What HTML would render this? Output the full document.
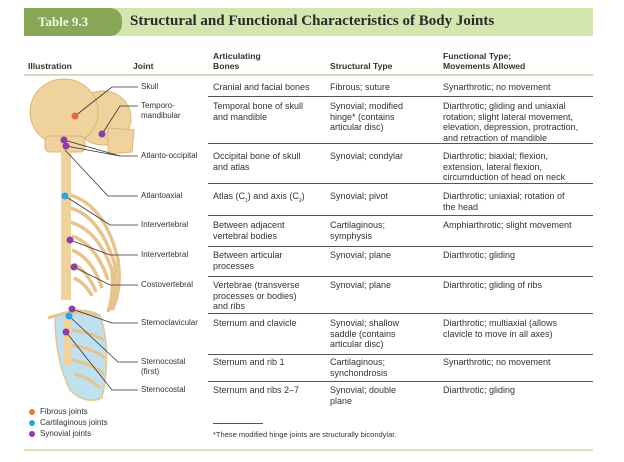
<!DOCTYPE html>
<html><head><meta charset="utf-8"><style>
body{margin:0;width:624px;height:462px;background:#fff;position:relative;overflow:hidden;font-family:"Liberation Sans",sans-serif;color:#333}
.t{position:absolute;font-size:9px;line-height:10.5px;white-space:nowrap}
.h{position:absolute;font-size:8.6px;line-height:10px;font-weight:bold;color:#333}
.r{position:absolute;left:208px;width:385px;height:1.3px;background:#555}
</style></head><body>
<div style="position:absolute;left:24px;top:8px;width:569px;height:28px;background:#d3e6b0"></div>
<div style="position:absolute;left:24px;top:8px;width:98px;height:28px;background:#88a857;border-radius:0 12px 12px 0"></div>
<div style="position:absolute;left:38px;top:14px;font-family:'Liberation Serif',serif;font-weight:bold;font-size:13px;color:#f3f6e8">Table 9.3</div>
<div style="position:absolute;left:130px;top:13px;font-family:'Liberation Serif',serif;font-weight:bold;font-size:15px;color:#2a2a2a">Structural and Functional Characteristics of Body Joints</div>
<div class="h" style="left:28px;top:61px">Illustration</div>
<div class="h" style="left:133px;top:61px">Joint</div>
<div class="h" style="left:213px;top:51px">Articulating<br>Bones</div>
<div class="h" style="left:330px;top:61px">Structural Type</div>
<div class="h" style="left:443px;top:51px">Functional Type;<br>Movements Allowed</div>
<div style="position:absolute;left:24px;top:74px;width:569px;height:2px;background:#cfdcc0"></div>
<div class="r" style="top:96px"></div><div class="r" style="top:143px"></div><div class="r" style="top:183px"></div><div class="r" style="top:215px"></div><div class="r" style="top:246px"></div><div class="r" style="top:276px"></div><div class="r" style="top:313px"></div><div class="r" style="top:354px"></div><div class="r" style="top:381px"></div>
<div style="position:absolute;left:213px;top:423px;width:50px;height:1px;background:#555"></div>
<div style="position:absolute;left:24px;top:449px;width:569px;height:2px;background:#d3e6b0"></div>
<svg style="position:absolute;left:0;top:0" width="624" height="462">
<g fill="#efd29c" stroke="#d8b77c" stroke-width="1">
<ellipse cx="103" cy="118" rx="28" ry="27"/>
<path d="M108 128 L134 130 L132 152 L108 154 Z"/>
<ellipse cx="64" cy="112" rx="34" ry="33"/>
<rect x="45" y="136" width="40" height="16" rx="5"/>
</g>
<g stroke="#e6c48c" stroke-width="3.5" fill="none">
<path d="M70 195 Q105 205 118 260 Q122 290 112 310"/>
<path d="M70 208 Q100 216 115 265 Q117 292 110 310"/>
<path d="M70 222 Q98 230 112 270 Q114 295 108 312"/>
<path d="M72 236 Q96 244 108 280"/>
<path d="M72 250 Q92 258 102 288"/>
<path d="M74 264 Q88 272 96 292"/>
<path d="M74 278 Q86 284 92 296"/>
</g>
<path d="M66 150 L66 300" stroke="#efd29c" stroke-width="10" fill="none"/>
<g fill="#bfe0ee" stroke="#e6c48c" stroke-width="1.5">
<path d="M55 316 Q80 305 100 315 Q112 350 102 398 Q85 405 70 390 Q55 360 55 316Z"/>
</g>
<g stroke="#e6c48c" stroke-width="3" fill="none">
<path d="M48 318 Q75 308 97 316"/><path d="M70 330 Q90 332 104 340"/><path d="M70 345 Q92 348 105 358"/><path d="M72 360 Q92 364 104 374"/><path d="M74 374 Q90 378 100 388"/>
</g>
<path d="M68 318 L68 365" stroke="#efd29c" stroke-width="8"/>
<g stroke="#333" stroke-width="0.8" fill="none">
<path d="M75 116 L112 87 L138 87"/>
<path d="M102 134 L120 106 L138 106"/>
<path d="M64 140 L120 156 L138 156"/><path d="M66 146 L120 156"/>
<path d="M65 150 L108 196 L138 196"/>
<path d="M65 196 L110 225 L138 225"/>
<path d="M70 240 L110 255 L138 255"/>
<path d="M74 267 L110 285 L138 285"/>
<path d="M72 309 L112 323 L138 323"/>
<path d="M69 316 L118 362 L138 362"/>
<path d="M66 332 L112 390 L138 390"/>
</g>
<g stroke="none">
<circle cx="75" cy="116" r="3.5" fill="#e46a3c"/>
<circle cx="102" cy="134" r="3.5" fill="#8b3fa6"/>
<circle cx="64" cy="140" r="3.5" fill="#8b3fa6"/><circle cx="66" cy="146" r="3.5" fill="#8b3fa6"/>
<circle cx="65" cy="196" r="3.5" fill="#1fa9e0"/>
<circle cx="70" cy="240" r="3.5" fill="#8b3fa6"/>
<circle cx="74" cy="267" r="3.5" fill="#8b3fa6"/>
<circle cx="72" cy="309" r="3.5" fill="#8b3fa6"/>
<circle cx="69" cy="316" r="3.5" fill="#1fa9e0"/>
<circle cx="66" cy="332" r="3.5" fill="#8b3fa6"/>
<circle cx="32" cy="412" r="3" fill="#e07b30"/>
<circle cx="32" cy="423" r="3" fill="#1fa9e0"/>
<circle cx="32" cy="434" r="3" fill="#8b3fa6"/>
</g>
</svg>
<div class="t" style="left:40px;top:407px;font-size:8px">Fibrous joints</div>
<div class="t" style="left:40px;top:418px;font-size:8px">Cartilaginous joints</div>
<div class="t" style="left:40px;top:429px;font-size:8px">Synovial joints</div>
<div class="t" style="left:141px;top:82px;font-size:8px">Skull</div>
<div class="t" style="left:141px;top:101px;font-size:8px;line-height:10px">Temporo-<br>mandibular</div>
<div class="t" style="left:141px;top:151px;font-size:8px">Atlanto-occipital</div>
<div class="t" style="left:141px;top:191px;font-size:8px">Atlantoaxial</div>
<div class="t" style="left:141px;top:220px;font-size:8px">Intervertebral</div>
<div class="t" style="left:141px;top:250px;font-size:8px">Intervertebral</div>
<div class="t" style="left:141px;top:280px;font-size:8px">Costovertebral</div>
<div class="t" style="left:141px;top:318px;font-size:8px">Sternoclavicular</div>
<div class="t" style="left:141px;top:357px;font-size:8px;line-height:10px">Sternocostal<br>(first)</div>
<div class="t" style="left:141px;top:385px;font-size:8px">Sternocostal</div>

<div class="t" style="left:213px;top:82px">Cranial and facial bones</div>
<div class="t" style="left:330px;top:82px">Fibrous; suture</div>
<div class="t" style="left:443px;top:82px">Synarthrotic; no movement</div>
<div class="t" style="left:213px;top:101px">Temporal bone of skull<br>and mandible</div>
<div class="t" style="left:330px;top:101px">Synovial; modified<br>hinge* (contains<br>articular disc)</div>
<div class="t" style="left:443px;top:101px">Diarthrotic; gliding and uniaxial<br>rotation; slight lateral movement,<br>elevation, depression, protraction,<br>and retraction of mandible</div>
<div class="t" style="left:213px;top:151px">Occipital bone of skull<br>and atlas</div>
<div class="t" style="left:330px;top:151px">Synovial; condylar</div>
<div class="t" style="left:443px;top:151px">Diarthrotic; biaxial; flexion,<br>extension, lateral flexion,<br>circumduction of head on neck</div>
<div class="t" style="left:213px;top:191px">Atlas (C<sub style="font-size:5px">1</sub>) and axis (C<sub style="font-size:5px">2</sub>)</div>
<div class="t" style="left:330px;top:191px">Synovial; pivot</div>
<div class="t" style="left:443px;top:191px">Diarthrotic; uniaxial; rotation of<br>the head</div>
<div class="t" style="left:213px;top:220px">Between adjacent<br>vertebral bodies</div>
<div class="t" style="left:330px;top:220px">Cartilaginous;<br>symphysis</div>
<div class="t" style="left:443px;top:220px">Amphiarthrotic; slight movement</div>
<div class="t" style="left:213px;top:250px">Between articular<br>processes</div>
<div class="t" style="left:330px;top:250px">Synovial; plane</div>
<div class="t" style="left:443px;top:250px">Diarthrotic; gliding</div>
<div class="t" style="left:213px;top:280px">Vertebrae (transverse<br>processes or bodies)<br>and ribs</div>
<div class="t" style="left:330px;top:280px">Synovial; plane</div>
<div class="t" style="left:443px;top:280px">Diarthrotic; gliding of ribs</div>
<div class="t" style="left:213px;top:318px">Sternum and clavicle</div>
<div class="t" style="left:330px;top:318px">Synovial; shallow<br>saddle (contains<br>articular disc)</div>
<div class="t" style="left:443px;top:318px">Diarthrotic; multiaxial (allows<br>clavicle to move in all axes)</div>
<div class="t" style="left:213px;top:357px">Sternum and rib 1</div>
<div class="t" style="left:330px;top:357px">Cartilaginous;<br>synchondrosis</div>
<div class="t" style="left:443px;top:357px">Synarthrotic; no movement</div>
<div class="t" style="left:213px;top:385px">Sternum and ribs 2–7</div>
<div class="t" style="left:330px;top:385px">Synovial; double<br>plane</div>
<div class="t" style="left:443px;top:385px">Diarthrotic; gliding</div>
<div class="t" style="left:213px;top:430px;font-size:7.5px">*These modified hinge joints are structurally bicondylar.</div>
</body></html>
